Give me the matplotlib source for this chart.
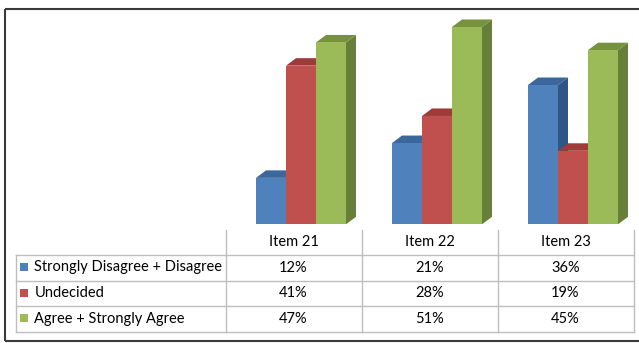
import matplotlib
matplotlib.use("Agg")
import matplotlib.pyplot as plt
from matplotlib.patches import Polygon, Rectangle
import numpy as np

plt.rcParams['font.family'] = ['Lato', 'DejaVu Sans']

items = ["Item 21", "Item 22", "Item 23"]
series = ["Strongly Disagree + Disagree", "Undecided", "Agree + Strongly Agree"]
disagree = [12, 21, 36]
undecided = [41, 28, 19]
agree = [47, 51, 45]
values = [disagree, undecided, agree]

front_cols = ["#4F81BD", "#C0504D", "#9BBB59"]
side_cols = ["#2F5786", "#8E3634", "#66803A"]
top_cols = ["#3B679C", "#9E3B38", "#76923C"]

W, H = 639, 343
fig = plt.figure(figsize=(W / 100, H / 100), dpi=100)
fig.patch.set_facecolor("white")

# overlay axes in pixel coords for frame and table
ov = fig.add_axes([0, 0, 1, 1])
ov.set_xlim(0, W)
ov.set_ylim(H, 0)
ov.axis("off")

# bar axes
px_left, px_right = 225.5, 633.5
base_px = 224.3
ppu = 3.869  # pixels per percent
ymax = 55
ax_h = ymax * ppu
ax = fig.add_axes([px_left / W, (H - base_px) / H, (px_right - px_left) / W, ax_h / H])
ax.set_xlim(-0.5, len(items) - 0.5)
ax.set_ylim(0, ymax)
ax.axis("off")
ax.patch.set_alpha(0)

bw = 30 / 136.0
dx = 10 / 136.0
dy = 7.5 / ppu
x = np.arange(len(items))
for i in range(len(items)):
    for k in range(len(series)):
        h = values[k][i]
        left = x[i] - 0.2757 + k * bw
        r = left + bw
        ax.bar(left, h, width=bw, align="edge", color=front_cols[k], zorder=3 + i * 10 + k * 3)
        ax.add_patch(Polygon([(r, 0), (r + dx, dy), (r + dx, h + dy), (r, h)], closed=True,
                             facecolor=side_cols[k], edgecolor="none", zorder=2 + i * 10 + k * 3))
        ax.add_patch(Polygon([(left, h), (left + dx, h + dy), (r + dx, h + dy), (r, h)], closed=True,
                             facecolor=top_cols[k], edgecolor="none", zorder=2 + i * 10 + k * 3))

# table
grid = "#BEBEBE"
col_x = [225.5, 361.5, 497.5, 633.5]
row_y = [254.5, 280.5, 306.0, 331.5]
tab_left = 15.5
for y in row_y:
    ov.plot([tab_left, col_x[-1]], [y, y], color=grid, lw=1.0)
ov.plot([tab_left, tab_left], [row_y[0], row_y[-1]], color=grid, lw=1.0)
for cx in col_x:
    ov.plot([cx, cx], [230, row_y[-1]], color=grid, lw=1.0)

fs = 10.5
for i, it in enumerate(items):
    cxm = (col_x[i] + col_x[i + 1]) / 2
    ov.text(cxm, 242.5, it, ha="center", va="center", fontsize=fs, color="#000000")
    for k in range(len(series)):
        cy = (row_y[k] + row_y[k + 1]) / 2
        ov.text(cxm, cy, f"{values[k][i]}%", ha="center", va="center", fontsize=fs, color="#000000")

for k, s in enumerate(series):
    cy = (row_y[k] + row_y[k + 1]) / 2
    ov.add_patch(Rectangle((20, cy - 4.5), 8, 8, facecolor=front_cols[k], edgecolor="none"))
    ov.text(34.5, cy, s, ha="left", va="center", fontsize=fs, color="#000000")

# outer frame
fc = "#3A3A3A"
ov.plot([4.5, 4.5], [8.5, 340.5], color=fc, lw=1.5, solid_capstyle="butt")
ov.plot([4.5, W + 2], [8.5, 8.5], color=fc, lw=1.5, solid_capstyle="butt")
ov.plot([4.5, W + 2], [340.5, 340.5], color=fc, lw=1.5, solid_capstyle="butt")

fig.savefig("out.png", dpi=100, facecolor="white")
